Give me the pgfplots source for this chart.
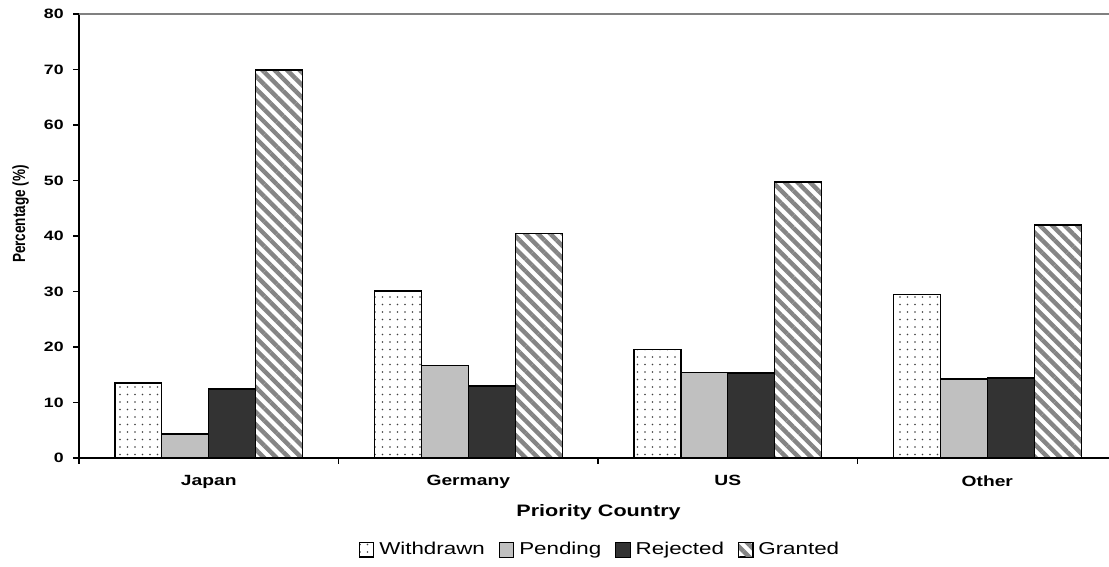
\documentclass[border=0pt]{standalone}
\usepackage{fontspec}
\setmainfont{Liberation Sans}[FakeStretch=1.3]
\newfontfamily\ylabfont{Liberation Sans}[FakeStretch=0.77]
\usepackage{pgfplots}
\pgfplotsset{compat=1.18}
\usetikzlibrary{patterns,patterns.meta}

% dotted fill for the first series
\pgfdeclarepatternformonly{finedots}{\pgfqpoint{-0.6pt}{-0.6pt}}{\pgfqpoint{0.6pt}{0.6pt}}{\pgfqpoint{3.75pt}{3.75pt}}{%
  \pgfpathcircle{\pgfqpoint{0pt}{0pt}}{0.45pt}\pgfusepath{fill}}

\definecolor{pendgray}{HTML}{C0C0C0}
\definecolor{rejgray}{HTML}{333333}
\definecolor{stripegray}{HTML}{858585}

% Percentage of applications by priority country
% x: 0 Japan, 1 Germany, 2 US, 3 Other
\pgfplotstableread{
x  withdrawn pending rejected granted
0  13.5      4.3     12.4     69.9
1  30.1      16.7    13.0     40.4
2  19.6      15.4    15.3     49.7
3  29.5      14.2    14.4     42.0
}\datatable

\pgfplotsset{
  boxlegend/.style={legend image code/.code={%
      \draw[##1,line width=0.5pt] (0pt,-3.6pt) rectangle (7.2pt,3.6pt);}},
}

\begin{document}
\begin{tikzpicture}
\useasboundingbox (0,0) rectangle (554.5pt,283.5pt);
\begin{axis}[
  at={(39.5pt,54.5pt)}, anchor=south west,
  scale only axis,
  width=515pt, height=222pt,
  ybar, bar width=0.181,
  xmin=-0.5, xmax=3.469,
  ymin=0, ymax=80,
  ytick={0,10,...,80},
  axis lines=left,
  axis line style={-, black, line width=0.75pt},
  tick align=outside,
  major tick length=3pt,
  tick style={black, line width=0.55pt},
  /pgf/number format/assume math mode=true,
  yticklabel style={font=\bfseries\fontsize{6.8}{8}\selectfont, anchor=east, inner sep=0pt, xshift=-4.5pt},
  xtick={-0.5,0.5,1.5,2.5},
  xticklabels={,,,},
  extra x ticks={0,1,2,3},
  extra x tick labels={Japan,Germany,US,Other},
  extra x tick style={major tick length=0pt,
    xticklabel style={font=\bfseries\fontsize{7.4}{9}\selectfont, anchor=north, inner sep=0pt, yshift=-8.5pt}},
  xlabel={Priority Country},
  xlabel style={at={(axis description cs:0.5044,0)}, anchor=north, inner sep=0pt, yshift=-23pt,
    font=\bfseries\fontsize{8.3}{10}\selectfont},
  ylabel={Percentage (\%)},
  ylabel style={at={([xshift=-27pt]axis description cs:0,0.5495)}, anchor=base, inner sep=0pt,
    font=\ylabfont\bfseries\fontsize{8.8}{10}\selectfont},
  legend columns=4,
  legend style={at={(axis description cs:0.5068,-0.2072)}, anchor=center, draw=none, fill=none,
    font=\fontsize{8.6}{10}\selectfont,
    /tikz/every even column/.append style={column sep=5pt},
    /tikz/every odd column/.append style={column sep=0.5pt}},
]
\addplot+[boxlegend, bar shift=-0.2715, preaction={fill=white},
  pattern=finedots, pattern color=black!75, draw=black, line width=0.7pt]
  table[x=x, y=withdrawn] {\datatable};
\addplot+[boxlegend, bar shift=-0.0905, draw=black, line width=0.7pt, fill=pendgray]
  table[x=x, y=pending] {\datatable};
\addplot+[boxlegend, bar shift=0.0905, draw=black, line width=0.7pt, fill=rejgray]
  table[x=x, y=rejected] {\datatable};
\addplot+[boxlegend, bar shift=0.2715, preaction={fill=white},
  pattern={Lines[angle=-45, distance=4.4pt, line width=2.2pt]}, pattern color=stripegray,
  draw=black, line width=0.7pt]
  table[x=x, y=granted] {\datatable};
\legend{Withdrawn,Pending,Rejected,Granted}
\draw[gray, line width=0.9pt] (rel axis cs:0,1) -- (rel axis cs:1,1);
\end{axis}
\end{tikzpicture}
\end{document}
